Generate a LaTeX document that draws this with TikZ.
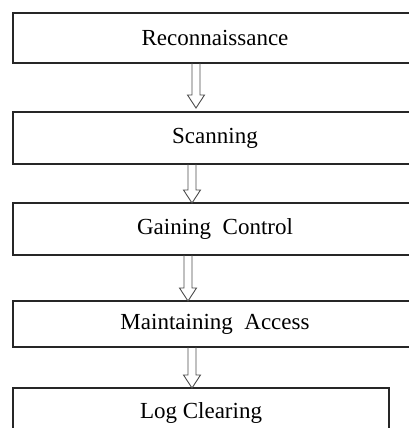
\documentclass[tikz,border=0pt]{standalone}
\usepackage{fontspec}
\setmainfont{Liberation Serif}
\usetikzlibrary{positioning,calc}
\tikzset{
  stage/.style={draw=black!85, line width=1.2pt, minimum width=404pt, minimum height=50pt,
    inner sep=0pt, outer sep=0pt, font=\fontsize{23}{27}\selectfont},
  hollowarrow/.style={draw=black!70, line width=0.9pt, line join=miter,
    to path={let \p1=(\tikztostart), \p2=(\tikztotarget) in
      (\x1-4pt,\y1) -- (\x1-4pt,\y2+13pt) -- (\x1-8.5pt,\y2+13pt) -- (\x1,\y2)
      -- (\x1+8.5pt,\y2+13pt) -- (\x1+4pt,\y2+13pt) -- (\x1+4pt,\y1)}}
}
\begin{document}
\begin{tikzpicture}[x=1pt, y=1pt]
	\useasboundingbox (0,0) rectangle (408,-428);
	\node[stage] (recon) at (215,-38) {Reconnaissance};
	\node[stage, minimum height=52pt, below=49pt of recon] (scan) {Scanning};
	\node[stage, minimum height=52pt, below=39pt of scan] (gain) {Gaining~~Control};
	\node[stage, minimum height=46pt, below=46pt of gain] (maint) {Maintaining~~Access};
	\node[stage, minimum width=376pt, below=41pt of maint.south west, anchor=north west] (logclr) {Log Clearing};
	% hollow arrows between the stages
	\draw[hollowarrow] ([xshift=-19pt]recon.south) to ([xshift=-19pt,yshift=4pt]scan.north);
	\draw[hollowarrow] ([xshift=-23pt]scan.south) to ([xshift=-23pt]gain.north);
	\draw[hollowarrow] ([xshift=-27pt]gain.south) to ([xshift=-27pt]maint.north);
	\draw[hollowarrow] ([xshift=-23pt]maint.south) to ([xshift=-9pt]logclr.north);
\end{tikzpicture}
\end{document}
